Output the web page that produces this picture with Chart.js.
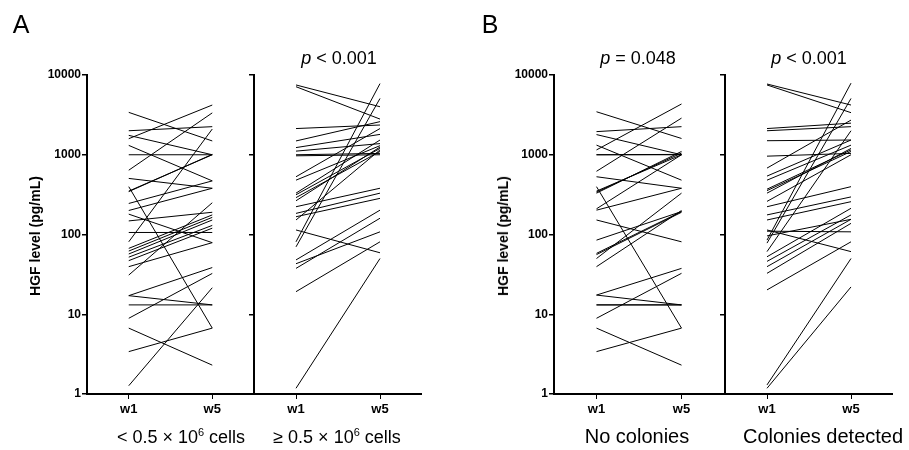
<!DOCTYPE html>
<html>
<head>
<meta charset="utf-8">
<script src="https://cdn.jsdelivr.net/npm/chart.js@4.4.1/dist/chart.umd.min.js"></script>
<style>
    body { margin: 0; background: #fff; }
    #wrap { position: relative; width: 909px; height: 450px; background: #fff; font-family: 'Liberation Sans', Arial, sans-serif; color: #000; }
    canvas { position: absolute; top: 0; }
    .txt { position: absolute; white-space: nowrap; transform: translate(-50%, -50%); }
    .panel { font-size: 25px; }
    .pval { font-size: 18px; }
    .group { font-size: 18px; }
    .groupB { font-size: 20px; }
    .ytitle { font-size: 14px; font-weight: bold; transform: translate(-50%, -50%) rotate(-90deg); }
    sup { font-size: 11px; }
</style>
</head>
<body>
<div id="wrap">
    <canvas id="lowCells" width="254" height="450" style="left:0px"></canvas>
    <canvas id="highCells" width="188" height="450" style="left:234px"></canvas>
    <canvas id="noColonies" width="257" height="450" style="left:467px"></canvas>
    <canvas id="colonies" width="188" height="450" style="left:705px"></canvas>

    <div class="txt panel" style="left:21px;top:24px">A</div>
    <div class="txt panel" style="left:490px;top:24px">B</div>
    <div class="txt pval" style="left:339px;top:58px"><i>p</i> &lt; 0.001</div>
    <div class="txt pval" style="left:638px;top:58px"><i>p</i> = 0.048</div>
    <div class="txt pval" style="left:809px;top:58px"><i>p</i> &lt; 0.001</div>
    <div class="txt ytitle" style="left:35px;top:236px">HGF level (pg/mL)</div>
    <div class="txt ytitle" style="left:503px;top:236px">HGF level (pg/mL)</div>
    <div class="txt group" style="left:181px;top:437px">&lt; 0.5 × 10<sup>6</sup> cells</div>
    <div class="txt group" style="left:337px;top:437px">≥ 0.5 × 10<sup>6</sup> cells</div>
    <div class="txt groupB" style="left:637px;top:436px">No colonies</div>
    <div class="txt groupB" style="left:823px;top:436px">Colonies detected</div>
</div>
<script>
const weeks = ['w1', 'w5'];
const yTicks = [1, 10, 100, 1000, 10000];

// A: < 0.5 x 10^6 cells
const lowCellsW1 = [3400, 2000, 1750, 1590, 1310, 1000, 640, 505, 398, 350, 345, 245, 200, 180, 148, 106, 81, 67, 62, 57, 52, 47, 39.5, 31, 17.1, 17.1, 13.1, 8.9, 6.7, 3.4, 1.27];
const lowCellsW5 = [1490, 2250, 1000, 4200, 470, 1000, 3350, 380, 6.7, 1000, 1010, 470, 380, 79, 190, 106, 2100, 176, 164, 152, 130, 120, 79, 250, 38.5, 13.1, 13.1, 32.5, 2.3, 6.7, 21.5];

// A: >= 0.5 x 10^6 cells
const highCellsW1 = [7500, 7130, 2130, 1490, 1230, 1110, 1000, 970, 530, 480, 330, 315, 290, 265, 223, 184, 167, 152, 114, 81, 70, 48, 43, 37.6, 19.2, 1.18];
const highCellsW5 = [4000, 2800, 2360, 2600, 1800, 1380, 1040, 1000, 2130, 1300, 1530, 1200, 1100, 1250, 380, 330, 284, 1150, 59, 7800, 5080, 202, 108, 160, 81, 50];

// B: no colonies
const noColoniesW1 = [3460, 1950, 1790, 1320, 1150, 1000, 1000, 620, 530, 398, 350, 340, 330, 210, 202, 152, 85, 58, 56, 50, 39.5, 17.4, 17.4, 13.1, 13.1, 8.9, 6.7, 3.4];
const noColoniesW5 = [1600, 2250, 1000, 480, 4330, 1000, 1010, 2880, 380, 6.7, 1000, 1050, 1100, 1000, 380, 81, 194, 194, 190, 330, 200, 37.6, 13.1, 13.1, 13.1, 32.6, 2.3, 6.7];

// B: colonies detected
const coloniesW1 = [7710, 7500, 2130, 2000, 1500, 960, 680, 540, 480, 370, 355, 330, 260, 223, 176, 152, 114, 110, 96, 85, 78, 61, 52.6, 46, 39.5, 32.6, 20.2, 1.3, 1.18];
const coloniesW5 = [4200, 3370, 2490, 2250, 1530, 1040, 2720, 1530, 1320, 1150, 1100, 1200, 1000, 398, 296, 258, 61, 108, 155, 7900, 5080, 2000, 213, 176, 155, 138, 81, 50, 22];

const tickFont = { family: "'Liberation Sans', Arial, sans-serif", size: 12, weight: 'bold' };
const weekFont = { family: "'Liberation Sans', Arial, sans-serif", size: 13, weight: 'bold' };

const buildChart = (id, w1Values, w5Values, showLabels) => {
    const datasets = w1Values.map((value, i) => ({
        data: [value, w5Values[i]],
        borderColor: '#000',
        borderWidth: 1,
        pointRadius: 0,
        fill: false,
        tension: 0,
    }));

    return new Chart(document.getElementById(id), {
        type: 'line',
        data: { labels: weeks, datasets },
        options: {
            responsive: false,
            animation: false,
            layout: { padding: { top: 75, bottom: 26, left: 0, right: 0 } },
            plugins: { legend: { display: false }, tooltip: { enabled: false } },
            scales: {
                x: {
                    type: 'category',
                    offset: true,
                    afterFit: (scale) => { scale.height = 30; },
                    ticks: { color: '#000', font: weekFont, padding: 3 },
                    grid: { drawOnChartArea: false, drawTicks: true, tickLength: 5, color: '#000', offset: false },
                    border: { color: '#000', width: 2 },
                },
                y: {
                    type: 'logarithmic',
                    min: 1,
                    max: 10000,
                    afterBuildTicks: (scale) => { scale.ticks = yTicks.map((value) => ({ value })); },
                    afterFit: (scale) => { scale.width = showLabels ? 87 : 20; },
                    ticks: { display: showLabels, color: '#000', font: tickFont, padding: 1, callback: (value) => String(value) },
                    grid: { drawOnChartArea: false, drawTicks: true, tickLength: 5, color: '#000', lineWidth: 1.5 },
                    border: { color: '#000', width: 2 },
                },
            },
        },
    });
};

buildChart('lowCells', lowCellsW1, lowCellsW5, true);
buildChart('highCells', highCellsW1, highCellsW5, false);
buildChart('noColonies', noColoniesW1, noColoniesW5, true);
buildChart('colonies', coloniesW1, coloniesW5, false);
</script>
</body>
</html>
